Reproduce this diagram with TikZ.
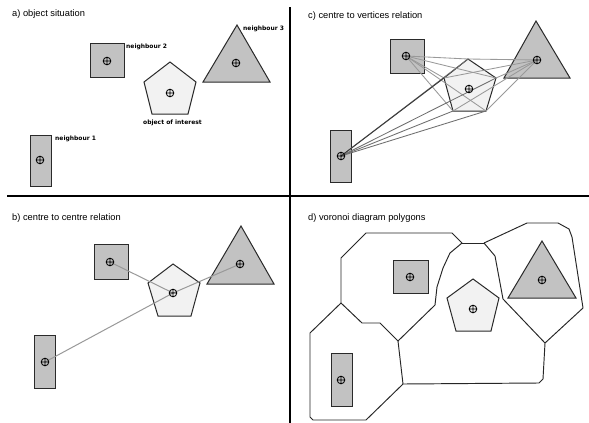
\documentclass[tikz,border=0pt]{standalone}
\usepackage{fontspec}
\setmainfont{Liberation Sans}
\newfontfamily\lblfont{DejaVu Sans}
\definecolor{objgray}{HTML}{C2C2C2}
\definecolor{objlight}{HTML}{F2F2F2}
\definecolor{edgecol}{HTML}{2A2A2A}
\definecolor{linklight}{HTML}{999999}
\definecolor{linkmid}{HTML}{6E6E6E}
\definecolor{linkdark}{HTML}{3C3C3C}
\begin{document}
\begin{tikzpicture}[x=1pt,y=-1pt,
  neighbour/.style={fill=objgray,draw=edgecol,line width=1pt,line join=miter},
  interest/.style={fill=objlight,draw=edgecol,line width=1pt,line join=miter},
  divider/.style={line width=1.7pt,black},
  cell/.style={draw=black!85,line width=0.95pt,line join=round},
  title/.style={anchor=west,inner sep=0pt,font=\fontsize{9.3}{11}\selectfont},
  lbl/.style={anchor=west,inner sep=0pt,font=\lblfont\bfseries\fontsize{6}{7}\selectfont},
  ctrlink/.style={linklight,line width=1pt},
  vlink/.style={linklight,line width=0.85pt},
  vlinkr/.style={linkmid,line width=0.85pt},
  ctrmark/.pic={\draw[black,line width=0.85pt] (0,0) circle (3.8pt)
     (-3.8pt,0) -- (3.8pt,0) (0,-3.8pt) -- (0,3.8pt);}]
\useasboundingbox (0,0) rectangle (589,423);
\fill[white] (0,0) rectangle (589,423);

% quadrant dividers
\draw[divider] (7,196) -- (589,196);
\draw[divider] (290,7) -- (290,423);

% ---------------- a) object situation ----------------
\node[title] (ta) at (12,14) {a) object situation};
\draw[neighbour] (90,43) rectangle (124,77);
\draw[neighbour] (237,25) -- (203,82) -- (270,82) -- cycle;
\draw[interest] (170,62) -- (196,82) -- (188,114) -- (152,114) -- (144,82) -- cycle;
\draw[neighbour] (30,135) rectangle (51,186);
\pic at (107,61) {ctrmark};
\pic at (236,63) {ctrmark};
\pic at (170,93) {ctrmark};
\pic at (40,160) {ctrmark};
\node[lbl] (la2) at (126,47) {neighbour 2};
\node[lbl] (la3) at (243,29) {neighbour 3};
\node[lbl] (la1) at (55,139) {neighbour 1};
\node[lbl,anchor=center] (lao) at (172.5,123) {object of interest};

% ---------------- b) centre to centre relation ----------------
\node[title] (tb) at (12,218) {b) centre to centre relation};
\draw[neighbour] (94,244) rectangle (128,279);
\draw[neighbour] (241,226) -- (207,284) -- (274,284) -- cycle;
\draw[interest] (173,264) -- (200,283) -- (191,316) -- (158,316) -- (148,283) -- cycle;
\draw[neighbour] (34,335) rectangle (55,388);
\coordinate (bS) at (110,262);
\coordinate (bT) at (240,264);
\coordinate (bP) at (173,293);
\coordinate (bR) at (45,362);
\draw[ctrlink] (bP) -- (bS) (bP) -- (bT) (bP) -- (bR);
\foreach \c in {bS,bT,bP,bR} \pic at (\c) {ctrmark};

% ---------------- c) centre to vertices relation ----------------
\node[title] (tc) at (308,16) {c) centre to vertices relation};
\draw[neighbour] (390,39) rectangle (424,73);
\draw[neighbour] (536,21) -- (504,78) -- (570,78) -- cycle;
\coordinate (p1) at (468,59);
\coordinate (p2) at (496,78);
\coordinate (p3) at (486,111);
\coordinate (p4) at (453,111);
\coordinate (p5) at (444,78);
\draw[interest] (p1) -- (p2) -- (p3) -- (p4) -- (p5) -- cycle;
\draw[neighbour] (330,130) rectangle (351,182);
\coordinate (cS) at (406,56);
\coordinate (cT) at (537,60);
\coordinate (cP) at (469,89);
\coordinate (cR) at (341,156);
\foreach \v in {p1,p2,p3,p4,p5} {
  \draw[vlink] (cS) -- (\v);
  \draw[vlink] (cT) -- (\v);
}
\foreach \v in {p1,p2,p3,p4} \draw[vlinkr] (cR) -- (\v);
\draw[linkdark,line width=0.95pt] (cR) -- (p5);
\foreach \c in {cS,cT,cP,cR} \pic at (\c) {ctrmark};

% ---------------- d) voronoi diagram polygons ----------------
\node[title] (td) at (308,218) {d) voronoi diagram polygons};
\coordinate (v1) at (462,243);
\coordinate (v2) at (484,243);
\coordinate (v3) at (545,343);
\coordinate (v4) at (398,341);
\coordinate (v5) at (403,384);
\coordinate (v6) at (341,303);
\draw[cell] (v6) -- (341,258) -- (366,233) -- (452,233) -- (v1);
\draw[cell] (v1) -- (450,253) -- (443,268) -- (437,287) -- (435,305) -- (v4);
\draw[cell] (v4) -- (380,323) -- (362,323) -- (v6);
\draw[cell] (v1) -- (v2);
\draw[cell] (v2) -- (495,256) -- (503,299) -- (v3);
\draw[cell] (v2) -- (527,223) -- (558,223) -- (569,229) -- (572,237) -- (583,308) -- (v3);
\draw[cell] (v3) -- (543,379) -- (539,383) -- (v5);
\draw[cell] (v4) -- (v5);
\draw[cell] (v5) -- (366,420) -- (313,420) -- (310,417) -- (310,333) -- (v6);
\draw[neighbour] (393,260) rectangle (428,293);
\draw[interest] (473,279) -- (499,298) -- (491,331) -- (456,331) -- (447,298) -- cycle;
\draw[neighbour] (542,241) -- (508,298) -- (576,298) -- cycle;
\draw[neighbour] (331,353) rectangle (352,406);
\pic at (410,277) {ctrmark};
\pic at (473,309) {ctrmark};
\pic at (542,280) {ctrmark};
\pic at (341,380) {ctrmark};
\end{tikzpicture}
\end{document}
